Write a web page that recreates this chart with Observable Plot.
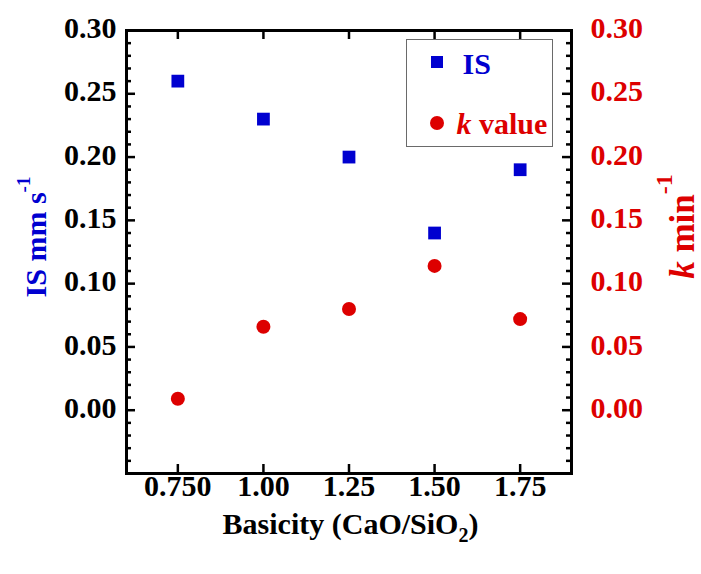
<!DOCTYPE html>
<html>
<head>
<meta charset="utf-8">
<script src="https://cdn.jsdelivr.net/npm/d3@7"></script>
<script src="https://cdn.jsdelivr.net/npm/@observablehq/plot@0.6"></script>
<style>
  html, body { margin: 0; padding: 0; background: #fff; }
  #chart { position: relative; width: 701px; height: 574px; font-family: "Liberation Serif", "Times New Roman", serif; font-weight: bold; }
  #chart svg { display: block; }
  #legend { position: absolute; left: 406px; top: 39px; width: 145px; height: 106px; border: 1.5px solid #6a6a6a; background: #fff; }
  #legend .label { position: absolute; font-size: 30px; line-height: 30px; white-space: nowrap; }
  #legend .sq { position: absolute; width: 12px; height: 12px; }
  #legend .dot { position: absolute; width: 14px; height: 14px; border-radius: 50%; }
</style>
</head>
<body>
<div id="chart"></div>
<script>
// Basicity series: interface shear (IS) and rate constant k
const basicity = [0.75, 1.00, 1.25, 1.50, 1.75];
const isValues = [0.26, 0.23, 0.20, 0.14, 0.19];
const kValues = [0.009, 0.066, 0.080, 0.114, 0.072];

// Axis ticks and their labels
const xTicks = [0.75, 1.00, 1.25, 1.50, 1.75];
const xTickLabels = ["0.750", "1.00", "1.25", "1.50", "1.75"];
const yTicks = [0.00, 0.05, 0.10, 0.15, 0.20, 0.25, 0.30];
const yTickLabels = ["0.00", "0.05", "0.10", "0.15", "0.20", "0.25", "0.30"];
const yMinorTicks = d3.range(-4, 30).filter(i => i % 5 !== 0).map(i => i / 100);

const blue = "#0000d0";
const red = "#dd0000";

const W = 701, H = 574;
const mL = 126, mR = 130, mT = 30, mB = 101;
const plotW = W - mL - mR, plotH = H - mT - mB;
const majorLen = 9, minorLen = 5;

const chart = Plot.plot({
  width: W,
  height: H,
  marginLeft: mL,
  marginRight: mR,
  marginTop: mT,
  marginBottom: mB,
  x: {domain: [0.6, 1.9], axis: null},
  y: {domain: [-0.05, 0.30], axis: null},
  style: {
    fontFamily: "'Liberation Serif', 'Times New Roman', serif",
    fontWeight: "bold",
    fontSize: "30px",
    background: "#fff",
    overflow: "visible"
  },
  marks: [
    // inward ticks on all four sides
    Plot.tickY(yMinorTicks, {y: d => d, stroke: "#000", strokeWidth: 2.5, insetRight: plotW - minorLen}),
    Plot.tickY(yTicks, {y: d => d, stroke: "#000", strokeWidth: 2.5, insetRight: plotW - majorLen}),
    Plot.tickY(yMinorTicks, {y: d => d, stroke: "#000", strokeWidth: 2.5, insetLeft: plotW - minorLen}),
    Plot.tickY(yTicks, {y: d => d, stroke: "#000", strokeWidth: 2.5, insetLeft: plotW - majorLen}),
    Plot.tickX(xTicks, {x: d => d, stroke: "#000", strokeWidth: 2.5, insetTop: plotH - majorLen}),
    Plot.tickX(xTicks, {x: d => d, stroke: "#000", strokeWidth: 2.5, insetBottom: plotH - majorLen}),
    Plot.frame({stroke: "#000", strokeWidth: 3}),

    // tick labels
    Plot.text(yTicks, {y: d => d, text: (d, i) => yTickLabels[i], frameAnchor: "left", textAnchor: "end", dx: -10, dy: -2, fill: "#000"}),
    Plot.text(yTicks, {y: d => d, text: (d, i) => yTickLabels[i], frameAnchor: "right", textAnchor: "start", dx: 19, dy: -2, fill: red}),
    Plot.text(xTicks, {x: d => d, text: (d, i) => xTickLabels[i], frameAnchor: "bottom", textAnchor: "middle", dy: 22.4, fill: "#000"}),

    // axis titles
    Plot.text(["Basicity (CaO/SiO2)"], {frameAnchor: "bottom", textAnchor: "middle", dx: 1.5, dy: 60.4, fontSize: 30, fill: "#000"}),
    Plot.text(["IS mm s-1"], {frameAnchor: "left", textAnchor: "middle", rotate: -90, dx: -90.6, dy: -15, fontSize: 30, fill: blue}),
    Plot.text(["k min-1"], {frameAnchor: "right", textAnchor: "middle", rotate: -90, dx: 110.8, dy: -25.5, fontSize: 35, fill: red}),

    // data
    Plot.dot(basicity, {x: d => d, y: (d, i) => isValues[i], symbol: "square", r: 7.2, fill: blue}),
    Plot.dot(basicity, {x: d => d, y: (d, i) => kValues[i], symbol: "circle", r: 7, fill: red})
  ]
});

// Subscripts, superscripts and italics inside the axis titles
function richText(svg, plain, parts) {
  d3.select(svg).selectAll("text")
    .filter(function () { return this.textContent === plain; })
    .each(function () {
      const t = d3.select(this).text(null);
      for (const p of parts) {
        const s = t.append("tspan").text(p.text);
        if (p.dy) s.attr("dy", p.dy);
        if (p.size) s.attr("font-size", p.size);
        if (p.italic) s.attr("font-style", "italic");
      }
    });
}
richText(chart, "Basicity (CaO/SiO2)", [
  {text: "Basicity (CaO/SiO"},
  {text: "2", dy: "8px", size: 20},
  {text: ")", dy: "-8px"}
]);
richText(chart, "IS mm s-1", [
  {text: "IS mm s"},
  {text: "-1", dy: "-16px", size: 19}
]);
richText(chart, "k min-1", [
  {text: "k", italic: true},
  {text: " min"},
  {text: "-1", dy: "-22px", size: 24}
]);

const container = document.getElementById("chart");
container.appendChild(chart);

// Legend box
const legend = d3.select(container).append("div").attr("id", "legend");
legend.append("div").attr("class", "sq").style("background", blue).style("left", "23.5px").style("top", "15.5px");
legend.append("div").attr("class", "label").style("color", blue).style("left", "55.5px").style("top", "9.4px").text("IS");
legend.append("div").attr("class", "dot").style("background", red).style("left", "22.5px").style("top", "75.5px");
const kLab = legend.append("div").attr("class", "label").style("color", red).style("left", "49.5px").style("top", "69.4px");
kLab.append("i").text("k");
kLab.append("span").text(" value");
</script>
</body>
</html>
